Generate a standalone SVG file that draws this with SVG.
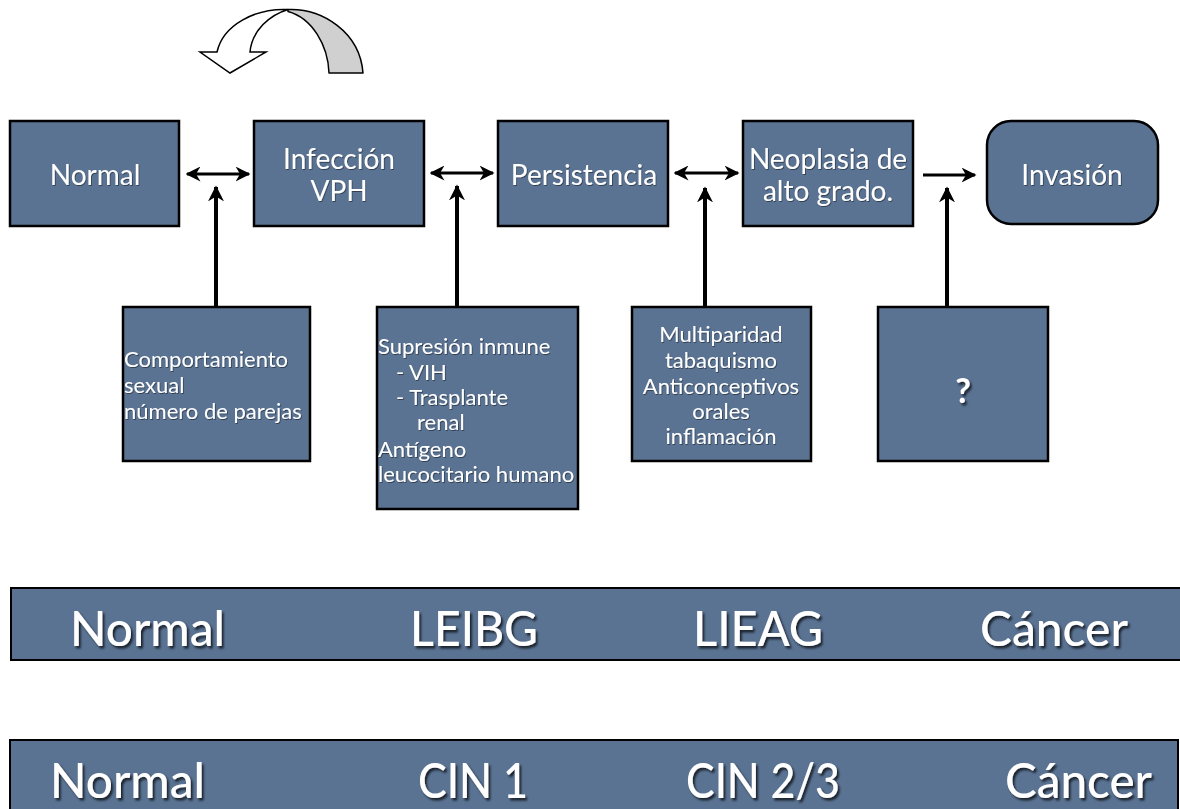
<svg xmlns="http://www.w3.org/2000/svg" width="1180" height="809" viewBox="0 0 1180 809">
<style>
.box{fill:#5a7393;stroke:#000;stroke-width:2.5}
.band{fill:#5a7393;stroke:#000;stroke-width:2}
.t{font-family:Lato,"Open Sans","Liberation Sans",sans-serif;fill:#fff}
.big{font-size:28px;text-anchor:middle}
.sm{font-size:22px}
.mid{text-anchor:middle}
.bt{font-size:48px;font-weight:500}
.con{stroke:#000;fill:none}
</style>
<defs>
<marker id="ah" viewBox="0 0 10 10" refX="9" refY="5" markerWidth="5" markerHeight="5" orient="auto-start-reverse" markerUnits="strokeWidth">
<path d="M0,0 L10,5 L0,10 L3,5 Z" fill="#000"/>
</marker>
<marker id="av" viewBox="0 0 10 10" refX="9" refY="5" markerWidth="4" markerHeight="4" orient="auto" markerUnits="strokeWidth">
<path d="M0,0 L10,5 L0,10 L3,5 Z" fill="#000"/>
</marker>
<filter id="sh" x="-10%" y="-20%" width="130%" height="150%">
<feDropShadow dx="2" dy="2.5" stdDeviation="1" flood-color="#000" flood-opacity="0.7"/>
</filter>
<filter id="sh2" x="-10%" y="-20%" width="130%" height="150%">
<feDropShadow dx="0.8" dy="1" stdDeviation="0.6" flood-color="#000" flood-opacity="0.45"/>
</filter>
</defs>

<g id="uturn-arrow">
<path d="M288,9.5 C322,8 360,32 363,73 L329,73 C328,45 312,18 288,11.5 Z" fill="#d0d0d0" stroke="#000" stroke-width="1.5" stroke-linejoin="round"/>
<path d="M217,52 C223,25 255,8 288,9.5 C270,15 252,30 250,52 L266,52 L230,73 L200,52 Z" fill="#fff" stroke="#000" stroke-width="1.5" stroke-linejoin="miter"/>
</g>

<g id="connectors">
<line class="con" x1="187" y1="174" x2="249" y2="174" stroke-width="3" marker-start="url(#ah)" marker-end="url(#ah)"/>
<line class="con" x1="431" y1="173" x2="493" y2="173" stroke-width="3" marker-start="url(#ah)" marker-end="url(#ah)"/>
<line class="con" x1="675" y1="173" x2="738" y2="173" stroke-width="3" marker-start="url(#ah)" marker-end="url(#ah)"/>
<line class="con" x1="923" y1="175" x2="975" y2="175" stroke-width="3" marker-end="url(#ah)"/>
<line class="con" x1="216" y1="307" x2="216" y2="187" stroke-width="4" marker-end="url(#av)"/>
<line class="con" x1="457" y1="307" x2="457" y2="186" stroke-width="4" marker-end="url(#av)"/>
<line class="con" x1="705" y1="307" x2="705" y2="188" stroke-width="4" marker-end="url(#av)"/>
<line class="con" x1="947" y1="307" x2="947" y2="188" stroke-width="4" marker-end="url(#av)"/>
</g>

<g id="normal">
<rect class="box" x="10" y="121" width="169" height="105"/>
<text class="t big" x="95" y="185" filter="url(#sh2)">Normal</text>
</g>
<g id="infeccion">
<rect class="box" x="254" y="121" width="170" height="105"/>
<text class="t big" x="339" y="169" filter="url(#sh2)">Infección</text>
<text class="t big" x="339" y="201" filter="url(#sh2)">VPH</text>
</g>
<g id="persistencia">
<rect class="box" x="498" y="121" width="170" height="105"/>
<text class="t big" x="584" y="185" filter="url(#sh2)">Persistencia</text>
</g>
<g id="neoplasia">
<rect class="box" x="743" y="121" width="170" height="105"/>
<text class="t big" x="828" y="169" filter="url(#sh2)">Neoplasia de</text>
<text class="t big" x="828" y="201" filter="url(#sh2)">alto grado.</text>
</g>
<g id="invasion">
<rect class="box" x="987" y="121" width="171" height="103" rx="24" ry="24"/>
<text class="t big" x="1072" y="185" filter="url(#sh2)">Invasión</text>
</g>

<g id="comportamiento">
<rect class="box" x="123" y="307" width="187" height="154"/>
<text class="t sm" x="124" y="367" filter="url(#sh2)">Comportamiento</text>
<text class="t sm" x="124" y="393" filter="url(#sh2)">sexual</text>
<text class="t sm" x="124" y="419" filter="url(#sh2)">número de parejas</text>
</g>
<g id="supresion">
<rect class="box" x="377" y="307" width="201" height="202"/>
<text class="t sm" x="378" y="354" filter="url(#sh2)">Supresión inmune</text>
<text class="t sm" x="396" y="380" filter="url(#sh2)">-  VIH</text>
<text class="t sm" x="396" y="405" filter="url(#sh2)">-  Trasplante</text>
<text class="t sm" x="417" y="430" filter="url(#sh2)">renal</text>
<text class="t sm" x="378" y="457" filter="url(#sh2)">Antígeno</text>
<text class="t sm" x="378" y="482" filter="url(#sh2)">leucocitario humano</text>
</g>
<g id="multiparidad">
<rect class="box" x="632" y="307" width="179" height="154"/>
<text class="t sm mid" x="721" y="342" filter="url(#sh2)">Multiparidad</text>
<text class="t sm mid" x="721" y="368" filter="url(#sh2)">tabaquismo</text>
<text class="t sm mid" x="721" y="394" filter="url(#sh2)">Anticonceptivos</text>
<text class="t sm mid" x="721" y="419" filter="url(#sh2)">orales</text>
<text class="t sm mid" x="721" y="444" filter="url(#sh2)">inflamación</text>
</g>
<g id="desconocido">
<rect class="box" x="878" y="307" width="170" height="154"/>
<text class="t mid" x="963" y="403" font-size="34" font-weight="bold" filter="url(#sh)">?</text>
</g>

<g id="banda-leibg">
<rect class="band" x="11" y="588" width="1175" height="72"/>
<text class="t bt" x="70" y="646" textLength="155" lengthAdjust="spacingAndGlyphs" filter="url(#sh)">Normal</text>
<text class="t bt" x="410" y="646" textLength="128" lengthAdjust="spacingAndGlyphs" filter="url(#sh)">LEIBG</text>
<text class="t bt" x="693" y="646" textLength="130" lengthAdjust="spacingAndGlyphs" filter="url(#sh)">LIEAG</text>
<text class="t bt" x="980" y="646" textLength="148" lengthAdjust="spacingAndGlyphs" filter="url(#sh)">Cáncer</text>
</g>
<g id="banda-cin">
<rect class="band" x="10" y="740" width="1168" height="75"/>
<text class="t bt" x="50" y="798" textLength="155" lengthAdjust="spacingAndGlyphs" filter="url(#sh)">Normal</text>
<text class="t bt" x="418" y="798" textLength="110" lengthAdjust="spacingAndGlyphs" filter="url(#sh)">CIN 1</text>
<text class="t bt" x="686" y="798" textLength="154" lengthAdjust="spacingAndGlyphs" filter="url(#sh)">CIN 2/3</text>
<text class="t bt" x="1005" y="798" textLength="147" lengthAdjust="spacingAndGlyphs" filter="url(#sh)">Cáncer</text>
</g>
</svg>
